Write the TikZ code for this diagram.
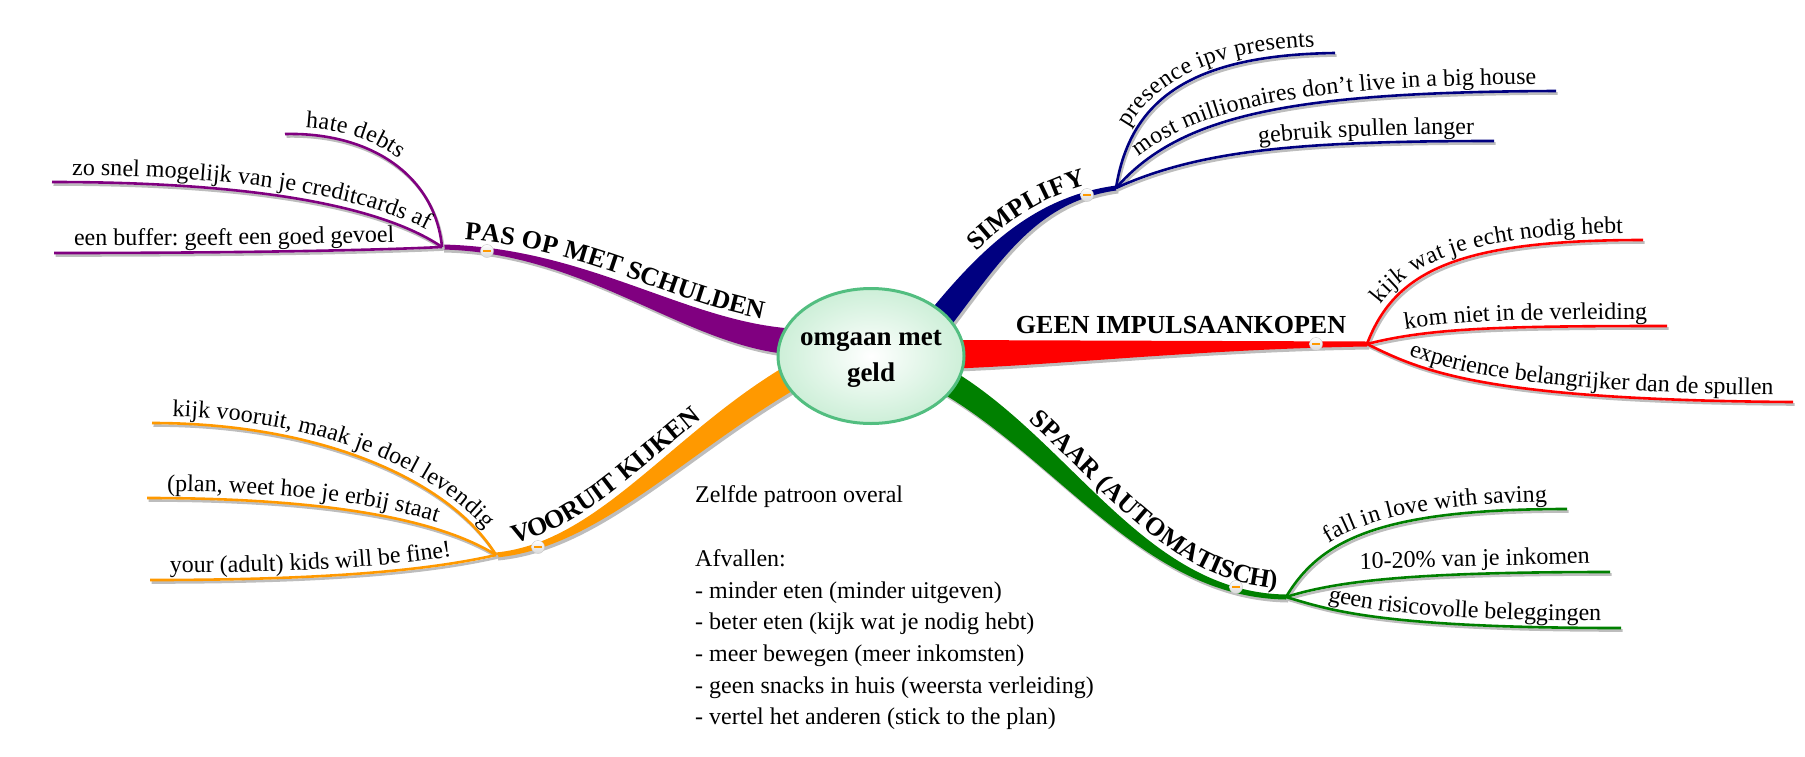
\documentclass[tikz,border=0pt]{standalone}
\usepackage{fontspec}
\setmainfont{Liberation Serif}
\usepackage{tikz}
\usetikzlibrary{shapes.geometric,decorations.text}
\definecolor{branchPurple}{HTML}{800080}
\definecolor{branchNavy}{HTML}{000080}
\definecolor{branchRed}{HTML}{FF0000}
\definecolor{branchGreen}{HTML}{008000}
\definecolor{branchOrange}{HTML}{FF9900}
\definecolor{rootBorder}{HTML}{52BE80}
\definecolor{rootFill}{HTML}{CDEFD8}
\definecolor{shadowGray}{HTML}{BDBDBD}
\newcommand*\leaffont{\fontsize{24}{31.6}\selectfont}
\newcommand*\branchfont{\bfseries\fontsize{26}{30}\selectfont}

\begin{document}
\begin{tikzpicture}[x=1pt,y=-1pt,
    leaf/.style={line width=2.6pt, preaction={draw=shadowGray, line width=2.6pt, transform canvas={shift={(1.5pt,-2.5pt)}}}},
    branchfill/.style={preaction={fill=shadowGray, transform canvas={shift={(2pt,-3pt)}}}},
    lefttext/.style={decorate, decoration={text along path, raise=7pt, text align={left indent=20pt}, text={|\leaffont|#1}}},
    righttext/.style={decorate, decoration={text along path, raise=7pt, text align={right, right indent=20pt}, text={|\leaffont|#1}}},
    branchlabel/.style={decorate, decoration={text along path, raise=6pt, text={|\branchfont|#1}}},
    knob/.style={circle, minimum size=13pt, inner sep=0pt, draw=gray!45, top color=white, bottom color=gray!30,
      path picture={\draw[branchOrange, line width=1.6pt] ([xshift=-4pt]path picture bounding box.center) -- ([xshift=4pt]path picture bounding box.center);}},
    roottopic/.style={ellipse, draw=rootBorder, line width=3pt, inner color=white, outer color=rootFill,
      minimum width=186pt, minimum height=135pt, inner sep=0pt, font=\bfseries\fontsize{27}{36}\selectfont}]
  \useasboundingbox (0,0) rectangle (1805,756);

  \coordinate (hub) at (871,356);
  \coordinate (pas) at (442,247);
  \coordinate (simplify) at (1116,188);
  \coordinate (geen) at (1367,344);
  \coordinate (spaar) at (1286,597);
  \coordinate (vooruit) at (496,555);

  \coordinate (debts) at (285,134);
  \coordinate (credit) at (52,182);
  \coordinate (buffer) at (54,253);
  \coordinate (presence) at (1335,53);
  \coordinate (millionaires) at (1556,91);
  \coordinate (gebruik) at (1494,141);
  \coordinate (nodig) at (1643,240);
  \coordinate (verleiding) at (1667,326);
  \coordinate (experience) at (1793,402);
  \coordinate (saving) at (1567,509);
  \coordinate (inkomen) at (1610,572);
  \coordinate (beleggingen) at (1621,628);
  \coordinate (levendig) at (152,423);
  \coordinate (plan) at (147,498);
  \coordinate (kids) at (150,580);

  \fill[branchfill, branchPurple] ([shift={(0,-2.5)}]pas) .. controls (590,247.5) and (690,325) .. ([shift={(-71,-27)}]hub)
    -- ([shift={(-71,-1)}]hub) .. controls (690,351) and (590,252.5) .. ([shift={(0,2.5)}]pas) -- cycle;
  \fill[branchfill, branchNavy] ([shift={(43.6,-25.8)}]hub) .. controls (974.6,254.2) and (1029.4,197.6) .. ([shift={(-0.6,-2.4)}]simplify)
    -- ([shift={(0.6,2.4)}]simplify) .. controls (1030.6,202.4) and (995.4,269.8) .. ([shift={(64.4,-10.2)}]hub) -- cycle;
  \fill[branchfill, branchRed] ([shift={(69,-16)}]hub) -- ([shift={(0,-2.5)}]geen)
    -- ([shift={(0,2.5)}]geen) .. controls (1200,349) and (1050,366) .. ([shift={(69,13)}]hub) -- cycle;
  \fill[branchfill, branchGreen] ([shift={(64.8,4.9)}]hub) .. controls (1065.8,428.9) and (1140,592.5) .. ([shift={(0,-2.5)}]spaar)
    -- ([shift={(0,2.5)}]spaar) .. controls (1140,597.5) and (1054.2,451.1) .. ([shift={(53.2,27.1)}]hub) -- cycle;
  \fill[branchfill, branchOrange] ([shift={(-0.25,-2.5)}]vooruit) .. controls (599.75,542.5) and (673.9,429.1) .. ([shift={(-77.1,5.1)}]hub)
    -- ([shift={(-64.9,26.9)}]hub) .. controls (686.1,450.9) and (600.25,547.5) .. ([shift={(0.25,2.5)}]vooruit) -- cycle;

  \draw[leaf, draw=branchPurple, postaction={lefttext={hate debts}}] (debts) .. controls (370,132) and (435,175) .. (pas);
  \draw[leaf, draw=branchPurple, postaction={lefttext={zo snel mogelijk van je creditcards af}}] (credit) .. controls (250,182) and (380,205) .. (pas);
  \draw[leaf, draw=branchPurple, postaction={lefttext={een buffer: geeft een goed gevoel}}] (buffer) .. controls (250,253) and (380,250) .. (pas);

  \draw[leaf, draw=branchNavy, postaction={righttext={presence ipv presents}}] (simplify) .. controls (1130,100) and (1190,55) .. (presence);
  \draw[leaf, draw=branchNavy, postaction={righttext={most millionaires don't live in a big house}}] (simplify) .. controls (1180,115) and (1290,92) .. (millionaires);
  \draw[leaf, draw=branchNavy, postaction={righttext={gebruik spullen langer}}] (simplify) .. controls (1200,150) and (1300,141) .. (gebruik);

  \draw[leaf, draw=branchRed, postaction={righttext={kijk wat je echt nodig hebt}}] (geen) .. controls (1395,270) and (1460,240) .. (nodig);
  \draw[leaf, draw=branchRed, postaction={righttext={kom niet in de verleiding}}] (geen) .. controls (1430,328) and (1500,326) .. (verleiding);
  \draw[leaf, draw=branchRed, postaction={righttext={experience belangrijker dan de spullen}}] (geen) .. controls (1420,370) and (1480,400) .. (experience);

  \draw[leaf, draw=branchGreen, postaction={righttext={fall in love with saving}}] (spaar) .. controls (1320,540) and (1380,509) .. (saving);
  \draw[leaf, draw=branchGreen] (spaar) .. controls (1340,580) and (1420,572) .. (inkomen);
  \draw[leaf, draw=branchGreen, postaction={righttext={geen risicovolle beleggingen}}] (spaar) .. controls (1330,610) and (1380,628) .. (beleggingen);

  \draw[leaf, draw=branchOrange, postaction={lefttext={kijk vooruit, maak je doel levendig}}] (levendig) .. controls (320,423) and (450,480) .. (vooruit);
  \draw[leaf, draw=branchOrange, postaction={lefttext={(plan, weet hoe je erbij staat}}] (plan) .. controls (330,498) and (440,520) .. (vooruit);
  \draw[leaf, draw=branchOrange, postaction={lefttext={your (adult) kids will be fine!}}] (kids) .. controls (330,580) and (430,570) .. (vooruit);

  \path[branchlabel={PAS OP MET SCHULDEN}, decoration={text align={left indent=22pt}}]
    ([shift={(0,-2.5)}]pas) .. controls (590,247.5) and (690,325) .. ([shift={(-71,-27)}]hub);
  \path[branchlabel={SIMPLIFY}, decoration={text align={right, right indent=28pt}}]
    ([shift={(43.6,-25.8)}]hub) .. controls (974.6,254.2) and (1029.4,197.6) .. ([shift={(-0.6,-2.4)}]simplify);
  \path[branchlabel={VOORUIT KIJKEN}, decoration={text align={left indent=20pt}}]
    ([shift={(-0.25,-2.5)}]vooruit) .. controls (599.75,542.5) and (673.9,429.1) .. ([shift={(-77.1,5.1)}]hub);
  \path[branchlabel={SPAAR (AUTOMATISCH)}, decoration={text align={right, right indent=10pt}}]
    ([shift={(64.8,4.9)}]hub) .. controls (1065.8,428.9) and (1140,592.5) .. ([shift={(0,-2.5)}]spaar);
  \node[font=\branchfont, anchor=base] (geenLabel) at (1181,333) {GEEN IMPULSAANKOPEN};
  \node[font=\leaffont, anchor=base east, rotate=1.5, inner sep=0pt] (inkomenText) at ([shift={(-20,-9)}]inkomen) {10-20\% van je inkomen};

  \node[knob] (knobPas) at (487,251) {};
  \node[knob] (knobSimplify) at (1087,195) {};
  \node[knob] (knobGeen) at (1316,344) {};
  \node[knob] (knobSpaar) at (1236,587) {};
  \node[knob] (knobVooruit) at (538,547) {};

  \node[roottopic] (root) at (hub) {\makebox[100pt]{\begin{tabular}{@{}c@{}}omgaan met\\geld\end{tabular}}};

  \node[anchor=north west, inner sep=0pt, align=left, font=\leaffont] (note) at (695,485)
    {Zelfde patroon overal\\[33pt]Afvallen:\\- minder eten (minder uitgeven)\\- beter eten (kijk wat je nodig hebt)\\- meer bewegen (meer inkomsten)\\- geen snacks in huis (weersta verleiding)\\- vertel het anderen (stick to the plan)};
\end{tikzpicture}
\end{document}
